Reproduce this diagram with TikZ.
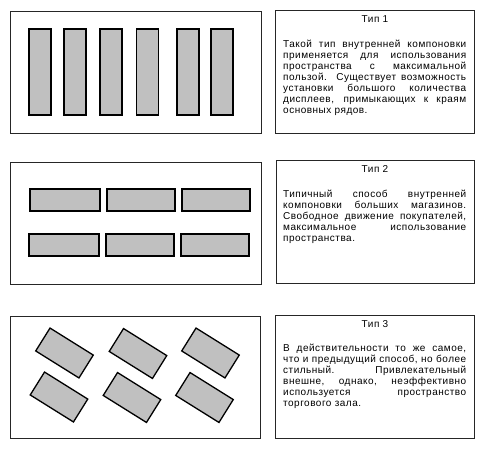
\documentclass[tikz,border=0pt]{standalone}
\usepackage{fontspec}
\setmainfont{Liberation Sans}[LetterSpace=5]
\definecolor{barfill}{HTML}{C0C0C0}
\newcommand\jl[1]{\makebox[183pt][s]{#1}\\}
\begin{document}
\begin{tikzpicture}[x=1pt,y=-1pt,
  bar/.style={draw=black, line width=1.3pt, fill=barfill, inner sep=0},
  body/.style={anchor=north west, inner sep=0, align=left, font={\fontsize{10}{11}\selectfont}},
  title/.style={anchor=base, inner sep=0, font={\fontsize{10}{11}\selectfont}}]
\useasboundingbox[fill=white] (0,0) rectangle (485,450);
% panels
\draw[draw=black!85, line width=0.8pt] (10,11) rectangle (261,133);
\draw[draw=black!85, line width=0.8pt] (275,10) rectangle (474,133);
\draw[draw=black!85, line width=0.8pt] (10,162) rectangle (261,284);
\draw[draw=black!85, line width=0.8pt] (276,160) rectangle (474,283);
\draw[draw=black!85, line width=0.8pt] (10,316) rectangle (260,438);
\draw[draw=black!85, line width=0.8pt] (275,315) rectangle (474,438);
% panel 1 bars
\foreach \n/\x in {a/40,b/75,c/111,d/147.5,e/188,f/222}
  \node[bar, minimum width=22pt, minimum height=86pt] (p1\n) at (\x,72) {};
% panel 2 bars
\foreach \n/\x/\w in {a/65/70,b/141/68,c/216/68}
  \node[bar, minimum width=\w pt, minimum height=22pt] (p2t\n) at (\x,200) {};
\foreach \n/\x/\w in {a/64/70,b/140/68,c/215/68}
  \node[bar, minimum width=\w pt, minimum height=22pt] (p2b\n) at (\x,245) {};
% panel 3 rotated
\foreach \n/\x/\y in {a/64.5/353,b/59/397,c/138/353.5,d/132/397.5,e/210.5/353,f/204.5/397.5}
  \node[bar, minimum width=51pt, minimum height=27pt, rotate=-32] (p3\n) at (\x,\y) {};
% texts
\node[title] (t1) at (375,22) {Тип 1};
\node[body] (b1) at (283,39.5) {%
\jl{Такой тип внутренней компоновки}
\jl{применяется для использования}
\jl{пространства с максимальной}
\jl{пользой. Существует возможность}
\jl{установки большого количества}
\jl{дисплеев, примыкающих к краям}
основных рядов.};
\node[title] (t2) at (375,172) {Тип 2};
\node[body] (b2) at (283,190) {%
\jl{Типичный способ внутренней}
\jl{компоновки больших магазинов.}
\jl{Свободное движение покупателей,}
\jl{максимальное использование}
пространства.};
\node[title] (t3) at (375,327) {Тип 3};
\node[body] (b3) at (283,344) {%
\jl{В действительности то же самое,}
\jl{что и предыдущий способ, но более}
\jl{стильный. Привлекательный}
\jl{внешне, однако, неэффективно}
\jl{используется пространство}
торгового зала.};
\end{tikzpicture}
\end{document}
